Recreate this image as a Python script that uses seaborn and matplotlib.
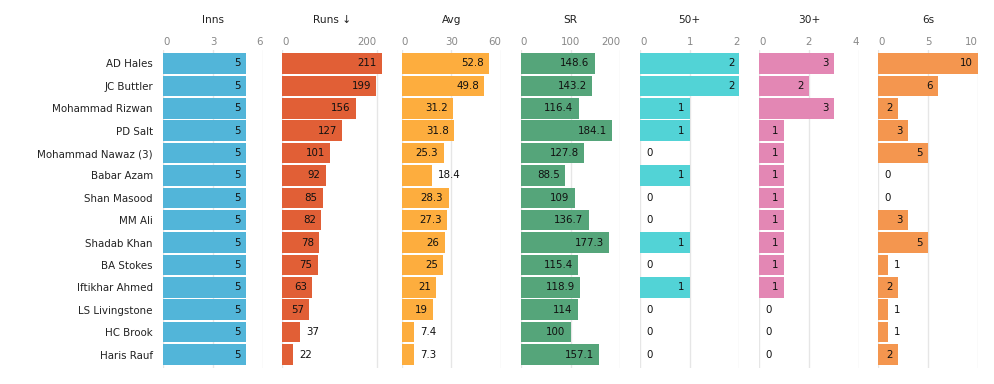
import matplotlib
matplotlib.use("Agg")
import matplotlib.pyplot as plt
import seaborn as sns
import pandas as pd

# ---------------- data ----------------
players = ["AD Hales", "JC Buttler", "Mohammad Rizwan", "PD Salt", "Mohammad Nawaz (3)",
           "Babar Azam", "Shan Masood", "MM Ali", "Shadab Khan", "BA Stokes",
           "Iftikhar Ahmed", "LS Livingstone", "HC Brook", "Haris Rauf"]
inns = [5, 5, 5, 5, 5, 5, 5, 5, 5, 5, 5, 5, 5, 5]
runs = [211, 199, 156, 127, 101, 92, 85, 82, 78, 75, 63, 57, 37, 22]
avg = [52.8, 49.8, 31.2, 31.8, 25.3, 18.4, 28.3, 27.3, 26, 25, 21, 19, 7.4, 7.3]
sr = [148.6, 143.2, 116.4, 184.1, 127.8, 88.5, 109, 136.7, 177.3, 115.4, 118.9, 114, 100, 157.1]
fifties = [2, 2, 1, 1, 0, 1, 0, 0, 1, 0, 1, 0, 0, 0]
thirties = [3, 2, 3, 1, 1, 1, 1, 1, 1, 1, 1, 0, 0, 0]
sixes = [10, 6, 2, 3, 5, 0, 0, 3, 5, 1, 2, 1, 1, 2]

titles = ["Inns", "Runs \u2193", "Avg", "SR", "50+", "30+", "6s"]
tick_sets = [[0, 3, 6], [0, 200], [0, 30, 60], [0, 100, 200], [0, 1, 2], [0, 2, 4], [0, 5, 10]]

df = pd.DataFrame({"Player": players, "Inns": inns, "Runs": runs, "Avg": avg, "SR": sr,
                   "50+": fifties, "30+": thirties, "6s": sixes})
columns = ["Inns", "Runs", "Avg", "SR", "50+", "30+", "6s"]
colors = ["#52b5d9", "#e15f36", "#fdad3e", "#55a57a", "#52d3d6", "#e387b4", "#f4964f"]
# x-domain upper bounds: nice ticks, except Runs which ends at its max value
x_max = [6, max(runs), 60, 200, 2, 4, 10]

# ---------------- style ----------------
sns.set_theme(style="white")
plt.rcParams["font.family"] = ["DejaVu Sans"]

W, H = 995, 384
DPI = 100
fig = plt.figure(figsize=(W / DPI, H / DPI), dpi=DPI)

FS = 7.4
panel_left0 = 163.3
panel_step = 119.17
panel_w = 99.5
top_px, bottom_px = 50, 368
n = len(players)
pad_rows = 0.1

axes = []
for i, col in enumerate(columns):
    left = panel_left0 + i * panel_step
    ax = fig.add_axes([left / W, 1 - bottom_px / H, panel_w / W, (bottom_px - top_px) / H])
    sns.barplot(data=df, x=col, y="Player", ax=ax, color=colors[i], saturation=1,
                width=0.92, orient="h", errorbar=None, edgecolor="none", linewidth=0)
    for p in ax.patches:
        p.set_zorder(3)
    ax.set_xlim(0, x_max[i])
    ax.set_ylim(n - 0.5 + pad_rows, -0.5 - pad_rows)
    ax.set_xticks(tick_sets[i])
    ax.xaxis.tick_top()
    ax.tick_params(axis="x", length=0, pad=2.2, labelsize=FS, labelcolor="#888888")
    ax.grid(axis="x", color="#e6e6e6", linewidth=1, zorder=0)
    ax.set_axisbelow(True)
    for s in ax.spines.values():
        s.set_visible(False)
    ax.set_xlabel("")
    ax.set_ylabel("")
    if i == 0:
        ax.tick_params(axis="y", length=0, pad=7.5, labelsize=FS, labelcolor="#222222")
    else:
        ax.tick_params(axis="y", length=0, labelleft=False)
    ticks = ax.xaxis.get_major_ticks()
    ticks[0].label2.set_horizontalalignment("left")
    ticks[-1].label2.set_horizontalalignment("right")
    fig.text((left + panel_w / 2) / W, 1 - 20 / H, titles[i], ha="center", va="center",
             fontsize=FS + 0.2, color="#222222")
    axes.append(ax)

fig.canvas.draw()
renderer = fig.canvas.get_renderer()

for i, col in enumerate(columns):
    ax = axes[i]
    vals = df[col].tolist()
    for r, v in enumerate(vals):
        label = f"{v:g}"
        bar_px = v / x_max[i] * panel_w
        t = ax.annotate(label, xy=(v, r), xytext=(-3.8, 0), textcoords="offset points",
                        ha="right", va="center", fontsize=FS, color="#111111", zorder=5)
        w = t.get_window_extent(renderer).width
        if w + 10 > bar_px:
            t.set_position((4.3, 0))
            t.set_horizontalalignment("left")

fig.savefig("out.png", dpi=DPI)
